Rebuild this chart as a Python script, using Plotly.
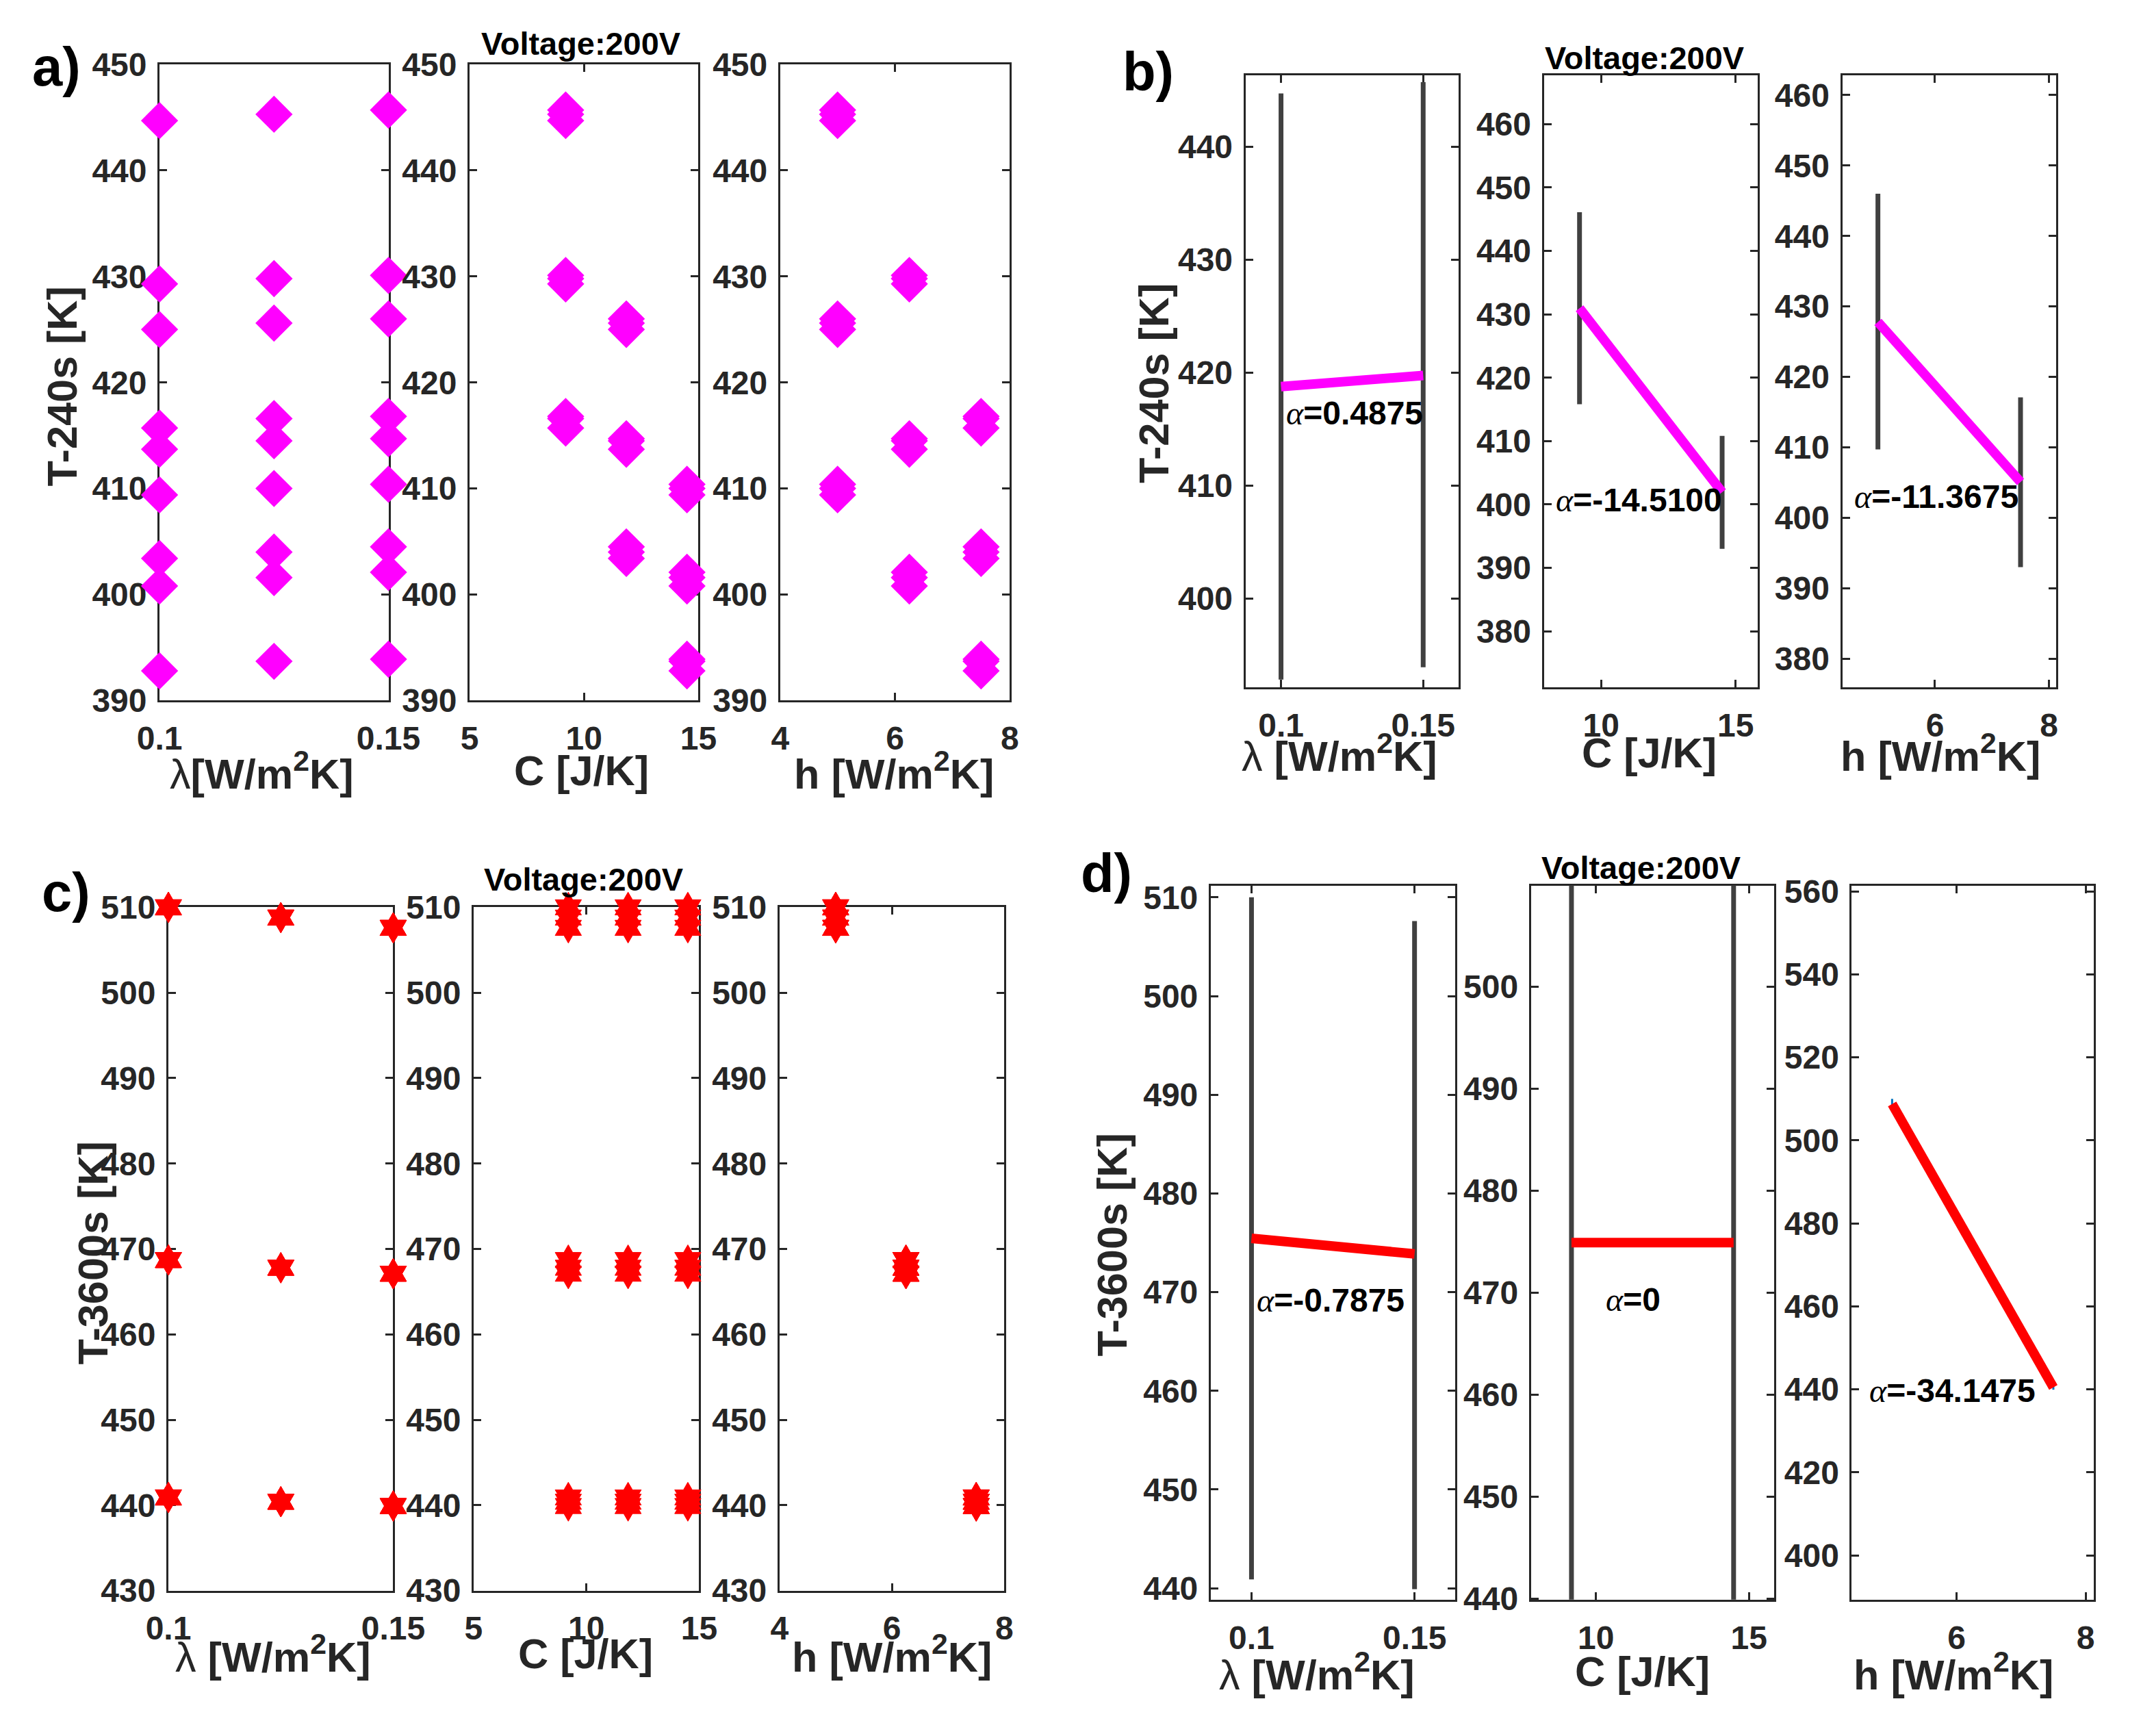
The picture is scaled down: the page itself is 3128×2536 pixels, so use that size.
import plotly.graph_objects as go

W, H = 3128, 2536
FONT = "Liberation Sans, Arial, sans-serif"
INK = "#262626"

# the photographed page comes out ~2% smaller and shifted, so target pixel
# positions are mapped back before use
SX, OX = 0.979, 38.0
SY, OY = 0.982, 32.7
K = 1 / 0.98


def fx(px):
    return (px - OX) / SX


def fy(py):
    return (py - OY) / SY


def fs(size):
    return round(size * K, 1)


# ---------- 3x3x3 design (panels a and c) ----------
lam = [0.1, 0.1, 0.1, 0.1, 0.1, 0.1, 0.1, 0.1, 0.1,
       0.125, 0.125, 0.125, 0.125, 0.125, 0.125, 0.125, 0.125, 0.125,
       0.15, 0.15, 0.15, 0.15, 0.15, 0.15, 0.15, 0.15, 0.15]
cap = [9.2, 9.2, 9.2, 11.85, 11.85, 11.85, 14.5, 14.5, 14.5,
       9.2, 9.2, 9.2, 11.85, 11.85, 11.85, 14.5, 14.5, 14.5,
       9.2, 9.2, 9.2, 11.85, 11.85, 11.85, 14.5, 14.5, 14.5]
hconv = [5, 6.25, 7.5, 5, 6.25, 7.5, 5, 6.25, 7.5,
         5, 6.25, 7.5, 5, 6.25, 7.5, 5, 6.25, 7.5,
         5, 6.25, 7.5, 5, 6.25, 7.5, 5, 6.25, 7.5]
T240 = [444.7, 429.3, 415.7, 425.0, 413.7, 403.4, 409.4, 400.8, 392.8,
        445.3, 429.8, 416.6, 425.6, 414.5, 404.0, 410.0, 401.6, 393.7,
        445.7, 430.1, 416.8, 426.0, 414.7, 404.5, 410.4, 402.1, 393.9]
T3600 = [510.0, 468.7, 440.9, 510.0, 468.7, 440.9, 510.0, 468.7, 440.9,
         508.8, 467.8, 440.4, 508.8, 467.8, 440.4, 508.8, 467.8, 440.4,
         507.6, 467.1, 439.9, 507.6, 467.1, 439.9, 507.6, 467.1, 439.9]

# ---------- main effects (panels b and d) ----------
lam_lv = [0.1, 0.15]
cap_lv = [9.2, 14.5]
h_lv = [5, 7.5]

b_lam_mean = [418.75, 419.725]
b_lam_lo = [392.8, 393.9]
b_lam_hi = [444.7, 445.7]
b_cap_mean = [430.95, 401.93]
b_cap_lo = [415.8, 393.0]
b_cap_hi = [446.1, 410.8]
b_h_mean = [427.8, 405.07]
b_h_lo = [409.7, 393.0]
b_h_hi = [446.0, 417.1]

d_lam_mean = [475.45, 473.875]
d_lam_lo = [440.9, 439.9]
d_lam_hi = [510.0, 507.6]
d_cap_mean = [474.9, 474.9]
d_cap_lo = [439.9, 439.9]
d_cap_hi = [510.0, 510.0]
d_h_mean = [508.75, 440.455]
d_h_lo = [507.6, 439.9]
d_h_hi = [510.0, 440.9]

alpha_b = ["0.4875", "-14.5100", "-11.3675"]
alpha_d = ["-0.7875", "0", "-34.1475"]


def xd(a, b):
    return [fx(a) / W, fx(b) / W]


def yd(top, bottom):
    return [1 - fy(bottom) / H, 1 - fy(top) / H]


def axis(dom, rng, ticks, anchor, standoff):
    return dict(domain=dom, range=rng, tickvals=ticks, anchor=anchor,
                showline=True, mirror="ticks", linecolor=INK, linewidth=3,
                ticks="inside", ticklen=11, tickwidth=3, tickcolor=INK,
                showgrid=False, zeroline=False, layer="below traces",
                ticklabelstandoff=standoff,
                tickfont=dict(family=FONT, size=fs(47), color=INK, weight="bold"))


fig = go.Figure()
lay = {}

# (x px, y px, x range, x ticks, y range, y ticks)
panels = [
    # a
    ((231, 567), (93, 1025), [0.1, 0.15], [0.1, 0.15], [390, 450], list(range(390, 451, 10))),
    ((686, 1022), (93, 1025), [5, 15], [5, 10, 15], [390, 450], list(range(390, 451, 10))),
    ((1142, 1479), (93, 1025), [4, 8], [4, 6, 8], [390, 450], list(range(390, 451, 10))),
    # b
    ((1825, 2138), (109, 1006), [0.0875, 0.1625], [0.1, 0.15], [392.1, 446.3], list(range(400, 441, 10))),
    ((2263, 2577), (109, 1006), [7.875, 15.825], [10, 15], [371.1, 467.7], list(range(380, 461, 10))),
    ((2701, 3015), (109, 1006), [4.375, 8.125], [6, 8], [375.9, 462.8], list(range(380, 461, 10))),
    # c
    ((244, 574), (1328, 2329), [0.1, 0.15], [0.1, 0.15], [430, 510], list(range(430, 511, 10))),
    ((692, 1023), (1328, 2329), [5, 15], [5, 10, 15], [430, 510], list(range(430, 511, 10))),
    ((1141, 1471), (1328, 2329), [4, 8], [4, 6, 8], [430, 510], list(range(430, 511, 10))),
    # d
    ((1774, 2133), (1296, 2343), [0.0875, 0.1625], [0.1, 0.15], [438.8, 511.2], list(range(440, 511, 10))),
    ((2244, 2601), (1296, 2343), [7.875, 15.825], [10, 15], [439.85, 509.9], list(range(440, 501, 10))),
    ((2715, 3070), (1296, 2343), [4.375, 8.125], [6, 8], [389.2, 561.4], list(range(400, 561, 20))),
]

for i, (xp, yp, xr, xt, yr, yt) in enumerate(panels, start=1):
    sfx = "" if i == 1 else str(i)
    lay["xaxis" + sfx] = axis(xd(*xp), xr, xt, "y" + sfx, 11)
    lay["yaxis" + sfx] = axis(yd(*yp), yr, yt, "x" + sfx, 6)

# ---- panel a: magenta diamonds ----
for k, xs in enumerate([lam, cap, hconv], start=1):
    sfx = "" if k == 1 else str(k)
    fig.add_trace(go.Scatter(x=xs, y=T240, mode="markers", cliponaxis=False,
                             marker=dict(symbol="diamond", size=fs(41), color="#FF00FF",
                                         line=dict(width=0)),
                             xaxis="x" + sfx, yaxis="y" + sfx))

# ---- panel c: red hexagrams ----
for k, xs in enumerate([lam, cap, hconv], start=7):
    fig.add_trace(go.Scatter(x=xs, y=T3600, mode="markers", cliponaxis=False,
                             marker=dict(symbol="hexagram", size=fs(33), color="#FF0000",
                                         line=dict(width=1, color="#FF0000")),
                             xaxis="x%d" % k, yaxis="y%d" % k))


def effect(ax, xs, mean, lo, hi, color, bar_color="#404040", bar_w=7):
    fig.add_trace(go.Scatter(
        x=xs, y=mean, mode="markers", marker=dict(size=1, color="rgba(0,0,0,0)"),
        error_y=dict(type="data", symmetric=False,
                     array=[h - m for h, m in zip(hi, mean)],
                     arrayminus=[m - l for m, l in zip(mean, lo)],
                     color=bar_color, thickness=bar_w, width=0),
        xaxis="x%d" % ax, yaxis="y%d" % ax))
    fig.add_trace(go.Scatter(x=xs, y=mean, mode="lines",
                             line=dict(color=color, width=14),
                             xaxis="x%d" % ax, yaxis="y%d" % ax))


effect(4, lam_lv, b_lam_mean, b_lam_lo, b_lam_hi, "#FF00FF")
effect(5, cap_lv, b_cap_mean, b_cap_lo, b_cap_hi, "#FF00FF")
effect(6, h_lv, b_h_mean, b_h_lo, b_h_hi, "#FF00FF")
effect(10, lam_lv, d_lam_mean, d_lam_lo, d_lam_hi, "#FF0000")
effect(11, cap_lv, d_cap_mean, d_cap_lo, d_cap_hi, "#FF0000")
effect(12, h_lv, d_h_mean, d_h_lo, d_h_hi, "#FF0000", bar_color="#0072BD", bar_w=3)

ann = []


def ptext(text, px, py, size, angle=0, color=INK):
    ann.append(dict(text=text, x=fx(px) / W, y=1 - fy(py) / H, xref="paper", yref="paper",
                    xanchor="center", yanchor="middle", showarrow=False, textangle=angle,
                    font=dict(family=FONT, size=fs(size), color=color, weight="bold")))


# panel letters
for t, px, py in [("a)", 80, 96), ("b)", 1682, 103), ("c)", 94, 1306), ("d)", 1621, 1278)]:
    ptext(t, px, py, 78, color="#000000")

# voltage titles
for px, py in [(849, 63), (2411, 84), (853, 1287), (2406, 1270)]:
    ptext("Voltage:200V", px, py, 46, color="#000000")

# y titles
ptext("T-240s [K]", 88, 565, 60, angle=-90)
ptext("T-240s [K]", 1690, 560, 60, angle=-90)
ptext("T-3600s [K]", 133, 1835, 60, angle=-90)
ptext("T-3600s [K]", 1629, 1823, 60, angle=-90)

LAM = '<span style="font-weight:normal">λ</span>'
x_titles = [
    (LAM + "[W/m<sup>2</sup>K]", 381, 1128), ("C [J/K]", 850, 1128), ("h [W/m<sup>2</sup>K]", 1309, 1128),
    (LAM + " [W/m<sup>2</sup>K]", 1963, 1102), ("C [J/K]", 2418, 1102), ("h [W/m<sup>2</sup>K]", 2845, 1102),
    (LAM + " [W/m<sup>2</sup>K]", 398, 2422), ("C [J/K]", 856, 2422), ("h [W/m<sup>2</sup>K]", 1306, 2422),
    (LAM + " [W/m<sup>2</sup>K]", 1930, 2448), ("C [J/K]", 2408, 2448), ("h [W/m<sup>2</sup>K]", 2864, 2448),
]
for t, px, py in x_titles:
    ptext(t, px, py, 60)

# alpha labels in data coordinates
ALPHA = ('<span style="font-family:\'Liberation Serif\', serif;font-weight:normal">'
         '<i>α</i></span>=')
alpha_pos = [(4, 0.1014, 416.4), (5, 8.26, 400.7), (6, 4.56, 403.0),
             (10, 0.10125, 469.2), (11, 10.27, 469.3), (12, 4.62, 439.6)]
for (ax, x, y), val in zip(alpha_pos, alpha_b + alpha_d):
    ann.append(dict(text=ALPHA + val, x=x, y=y, xref="x%d" % ax, yref="y%d" % ax,
                    xanchor="left", yanchor="middle", showarrow=False,
                    font=dict(family=FONT, size=fs(47), color="#000000", weight="bold")))

fig.update_layout(**lay)
fig.update_layout(width=W, height=H, autosize=False, showlegend=False,
                  margin=dict(l=0, r=0, t=0, b=0),
                  paper_bgcolor="white", plot_bgcolor="white",
                  annotations=ann)

fig.write_html("out.html")
